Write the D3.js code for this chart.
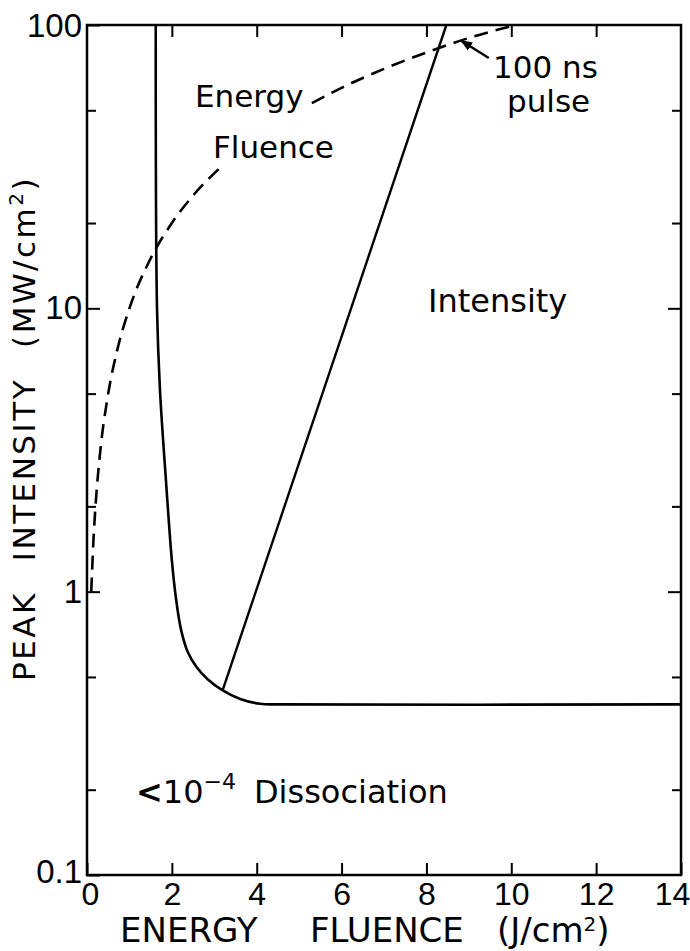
<!DOCTYPE html>
<html>
<head>
<meta charset="utf-8">
<script src="https://cdn.jsdelivr.net/npm/d3@7"></script>
<style>
  body { margin: 0; background: #fff; }
  svg text { font-family: "DejaVu Sans", sans-serif; fill: #000; }
</style>
</head>
<body>
<div id="chart"></div>
<script>
// values
const xTicks = [0, 2, 4, 6, 8, 10, 12, 14];
const yMajor = [0.1, 1, 10, 100];
const yMinor = [0.2, 0.5, 2, 5, 20, 50];

// threshold curve for 10^-4 dissociation
const threshX = [1.62, 1.65, 1.72, 1.86, 2.0, 2.1, 2.22, 2.38, 2.59, 2.85, 3.18, 3.61, 4.08, 4.55, 14];
const threshY = [100, 10, 5.15, 2.48, 1.29, 0.94, 0.73, 0.61, 0.54, 0.49, 0.45, 0.418, 0.402, 0.4, 0.4];

// "Intensity" line
const intensX = [3.2, 8.47];
const intensY = [0.45, 100];

// "Energy Fluence" dashed curve (100 ns pulse), hidden under its label between 3.15 and 5.3
const fluenceX = [0.1, 0.15, 0.2, 0.3, 0.5, 0.7, 1, 1.5, 2, 2.5, 3.15, 5.3, 6, 7, 8, 9, 10.1];
const fluenceY = [1, 1.5, 2, 3, 5, 7, 10, 15, 20, 25, 31.5, 53, 60, 70, 80, 90, 100];

const width = 690, height = 951;
const mLeft = 87, mRight = 681, mTop = 25, mBottom = 875;

const svg = d3.select("#chart").append("svg")
    .attr("width", width)
    .attr("height", height);

const x = d3.scaleLinear().domain([0, 14]).range([mLeft, mRight]);
const y = d3.scaleLog().domain([0.1, 100]).range([mBottom, mTop]);

// axes, ticks pointing inward
const xAxis = svg.append("g")
    .attr("transform", `translate(0,${mBottom})`)
    .call(d3.axisBottom(x).tickValues(xTicks).tickSizeInner(-12).tickSizeOuter(0).tickPadding(7));

svg.append("g")
    .attr("transform", `translate(0,${mTop})`)
    .call(d3.axisTop(x).tickValues(xTicks.slice(1, -1)).tickSize(-12).tickFormat(""));

const yAxis = svg.append("g")
    .attr("transform", `translate(${mLeft},0)`)
    .call(d3.axisLeft(y).tickValues(yMajor).tickSize(-13).tickPadding(5)
        .tickFormat(d => d < 1 ? "0.1" : d3.format("d")(d)));

svg.append("g")
    .attr("transform", `translate(${mLeft},0)`)
    .call(d3.axisLeft(y).tickValues(yMinor).tickSize(-9).tickFormat(""));

svg.append("g")
    .attr("transform", `translate(${mRight},0)`)
    .call(d3.axisRight(y).tickValues(yMajor.slice(1, -1)).tickSize(-13).tickFormat(""));

svg.append("g")
    .attr("transform", `translate(${mRight},0)`)
    .call(d3.axisRight(y).tickValues(yMinor).tickSize(-9).tickFormat(""));

svg.selectAll(".domain").remove();
svg.selectAll(".tick line").attr("stroke", "#000").attr("stroke-width", 2);

xAxis.selectAll("text")
    .style("font-size", "32px")
    .style("font-family", "Liberation Sans, sans-serif")
    .attr("dx", d => d === 0 ? 3 : d === 14 ? -9 : 0);

yAxis.selectAll("text")
    .style("font-size", "33px")
    .style("font-family", "Liberation Sans, sans-serif")
    .attr("y", d => d === 0.1 ? -3 : d === 100 ? 1 : 0);

// frame
svg.append("rect")
    .attr("x", mLeft)
    .attr("y", mTop)
    .attr("width", mRight - mLeft)
    .attr("height", mBottom - mTop)
    .attr("fill", "none")
    .attr("stroke", "#000")
    .attr("stroke-width", 2.5);

const curve = d3.line()
    .x(d => x(d[0]))
    .y(d => y(d[1]))
    .curve(d3.curveCatmullRom.alpha(0.5));

svg.append("path")
    .datum(threshX.map((v, i) => [v, threshY[i]]))
    .attr("d", curve)
    .attr("fill", "none")
    .attr("stroke", "#000")
    .attr("stroke-width", 2.6);

const straight = d3.line()
    .x(d => x(d[0]))
    .y(d => y(d[1]));

svg.append("path")
    .datum(intensX.map((v, i) => [v, intensY[i]]))
    .attr("d", straight)
    .attr("fill", "none")
    .attr("stroke", "#000")
    .attr("stroke-width", 2.4);

const fluencePts = fluenceX.map((v, i) => [v, fluenceY[i]]);
const fluenceLine = d3.line()
    .x(d => x(d[0]))
    .y(d => y(d[1]))
    .curve(d3.curveMonotoneX);

[fluencePts.filter(d => d[0] <= 3.15), fluencePts.filter(d => d[0] >= 5.3)].forEach(seg => {
    svg.append("path")
        .datum(seg)
        .attr("d", fluenceLine)
        .attr("fill", "none")
        .attr("stroke", "#000")
        .attr("stroke-width", 2.6)
        .attr("stroke-dasharray", "14,8");
});

// arrow to the 100 ns curve
svg.append("defs").append("marker")
    .attr("id", "head")
    .attr("viewBox", "0 0 10 10")
    .attr("refX", 9).attr("refY", 5)
    .attr("markerWidth", 5).attr("markerHeight", 5)
    .attr("orient", "auto")
    .append("path")
    .attr("d", "M0,1 L10,5 L0,9 Z")
    .attr("fill", "#000");

svg.append("line")
    .attr("x1", x(9.47)).attr("y1", y(76.5))
    .attr("x2", x(8.82)).attr("y2", y(88))
    .attr("stroke", "#000")
    .attr("stroke-width", 2.4)
    .attr("marker-end", "url(#head)");

// labels
function label(txt, px, py, size) {
    return svg.append("text")
        .attr("x", px)
        .attr("y", py)
        .style("font-size", size + "px")
        .text(txt);
}

label("Energy", 195, 107, 31);
label("Fluence", 213, 158, 31);
label("100 ns", 493, 78, 31);
label("pulse", 507, 112, 31);
label("Intensity", 428, 312, 32);

const diss = svg.append("text")
    .attr("x", 136)
    .attr("y", 803)
    .style("font-size", "32px");
diss.append("tspan").style("font-weight", "bold").text("<");
diss.append("tspan").text("10");
diss.append("tspan").attr("dy", -14).style("font-size", "22px").text("−4");
diss.append("tspan").attr("dy", 14).attr("dx", 18).text("Dissociation");

// axis titles
const xt = svg.append("text")
    .attr("y", 942)
    .style("font-size", "34px");
xt.append("tspan").attr("x", 120).text("ENERGY");
xt.append("tspan").attr("x", 310).text("FLUENCE");
xt.append("tspan").attr("x", 497).text("(J/cm");
xt.append("tspan").attr("dy", -11).style("font-size", "20px").text("2");
xt.append("tspan").attr("dy", 11).text(")");

const yt = svg.append("text")
    .attr("transform", "translate(35,681) rotate(-90)")
    .style("font-size", "31px")
    .style("letter-spacing", "2.5px");
yt.append("tspan").text("PEAK");
yt.append("tspan").attr("dx", 30).text("INTENSITY");
yt.append("tspan").attr("dx", 30).text("(MW/cm");
yt.append("tspan").attr("dy", -12).style("font-size", "20px").text("2");
yt.append("tspan").attr("dy", 12).text(")");
</script>
</body>
</html>
